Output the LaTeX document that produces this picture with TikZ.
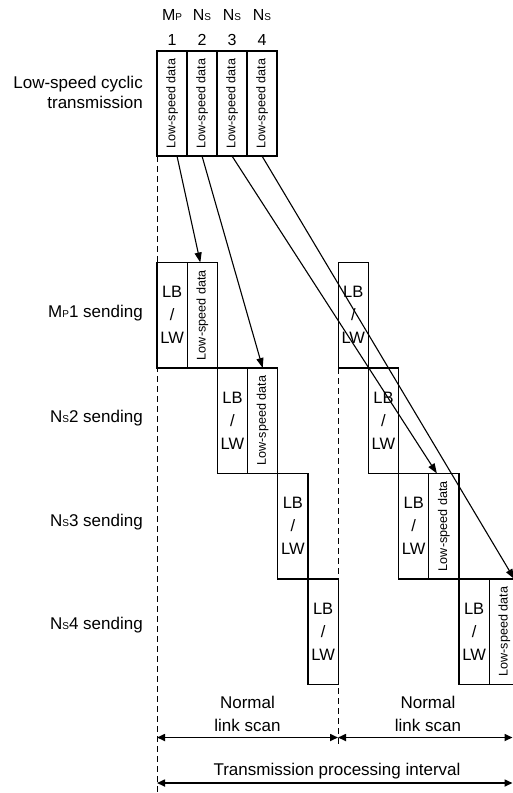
\documentclass[tikz,border=0pt]{standalone}
\usepackage{fontspec}
\setmainfont{Liberation Sans}
\usetikzlibrary{arrows.meta,positioning}
\newcommand{\lowdata}{\rotatebox{90}{\fontsize{12.6}{14}\selectfont Low-speed data}}
\newcommand{\smallsub}[1]{{\fontsize{10}{10}\selectfont #1}}

\begin{document}
\begin{tikzpicture}[x=1pt, y=-1pt,
    cell/.style={rectangle, draw, line width=1.3pt, outer sep=0pt, inner sep=0pt, minimum width=30.2pt, minimum height=105.5pt, align=center},
    lbcell/.style={cell, font=\fontsize{16.5}{23}\selectfont},
    topcell/.style={cell, line width=2pt, minimum width=30pt, minimum height=105pt},
    head/.style={font=\fontsize{16}{18}\selectfont, inner sep=0pt},
    rowlabel/.style={font=\fontsize{17}{20}\selectfont, align=right, anchor=east, inner sep=0pt},
    note/.style={font=\fontsize{17}{23}\selectfont, align=center, inner sep=0pt},
    guide/.style={line width=0.9pt, dash pattern=on 6pt off 4pt},
    flow/.style={line width=1.1pt, -{Triangle[length=10pt,width=7pt]}},
    dim/.style={line width=1.6pt, {Triangle[length=8pt,width=7pt]}-{Triangle[length=8pt,width=7pt]}}
]
\useasboundingbox (0,0) rectangle (513,793);

% top frame with the four stations
\node[topcell] (td1) at (172,103.5) {\lowdata};
\node[topcell, right=0pt of td1] (td2) {\lowdata};
\node[topcell, right=0pt of td2] (td3) {\lowdata};
\node[topcell, right=0pt of td3] (td4) {\lowdata};
\node[head] (n1) at (td1 |- 0,40) {1};
\node[head] (n2) at (td2 |- 0,40) {2};
\node[head] (n3) at (td3 |- 0,40) {3};
\node[head] (n4) at (td4 |- 0,40) {4};
\node[head] (h1) at (td1 |- 0,15) {M\smallsub{P}};
\node[head] (h2) at (td2 |- 0,15) {N\smallsub{S}};
\node[head] (h3) at (td3 |- 0,15) {N\smallsub{S}};
\node[head] (h4) at (td4 |- 0,15) {N\smallsub{S}};

% row labels
\node[rowlabel] (cyc) at (143,92) {Low-speed cyclic\\transmission};
\node[rowlabel] (s1) at (143,313) {M\smallsub{P}1 sending};
\node[rowlabel] (s2) at (143,418) {N\smallsub{S}2 sending};
\node[rowlabel] (s3) at (143,522) {N\smallsub{S}3 sending};
\node[rowlabel] (s4) at (143,625) {N\smallsub{S}4 sending};

% guide lines
\coordinate (endL) at (157,793);
\coordinate (endM) at (338,747);
\draw[guide] (td1.south west) -- (td1.south west |- endL);

% first link scan
\node[lbcell] (lb1) at (172.1,315.25) {LB\\/\\LW};
\node[cell, right=0pt of lb1] (d1) {\lowdata};
\node[lbcell, below right=0pt and 0pt of d1] (lb2) {LB\\/\\LW};
\node[cell, right=0pt of lb2] (d2) {\lowdata};
\node[lbcell, below right=0pt and 0pt of d2] (lb3) {LB\\/\\LW};
\node[lbcell, below right=0pt and 0pt of lb3] (lb4) {LB\\/\\LW};

% second link scan
\draw[guide] (lb4.east |- lb1.south) -- (lb4.east |- endM);
\node[lbcell, anchor=north west] (lb1x) at (lb4.east |- lb1.north) {LB\\/\\LW};
\node[lbcell, below right=0pt and 0pt of lb1x] (lb2x) {LB\\/\\LW};
\node[lbcell, below right=0pt and 0pt of lb2x] (lb3x) {LB\\/\\LW};
\node[cell, right=0pt of lb3x] (d3x) {\lowdata};
\node[lbcell, below right=0pt and 0pt of d3x] (lb4x) {LB\\/\\LW};
\node[cell, right=0pt of lb4x] (d4x) {\lowdata};

% transfers
\draw[flow] ([xshift=5pt]td1.south) -- ([xshift=-2pt]d1.north);
\draw[flow] (td2.south) -- (d2.north);
\draw[flow] (td3.south) -- ([xshift=-7pt]d3x.north);
\draw[flow] (td4.south) -- ([xshift=10pt]d4x.north);

% spans
\coordinate (scanA) at (157,737.5);
\coordinate (scanB) at (338,737.5);
\coordinate (scanC) at (512.5,737.5);
\coordinate (intA) at (157,783);
\coordinate (intB) at (512.5,783);
\draw[dim] (scanA) -- (scanB);
\draw[dim] (scanB) -- (scanC);
\draw[dim] (intA) -- (intB);
\node[note] (scan1) at (247.5,713.5) {Normal\\link scan};
\node[note] (scan2) at (428,713.5) {Normal\\link scan};
\node[note] (interval) at (337,771) {Transmission processing interval};
\end{tikzpicture}
\end{document}
